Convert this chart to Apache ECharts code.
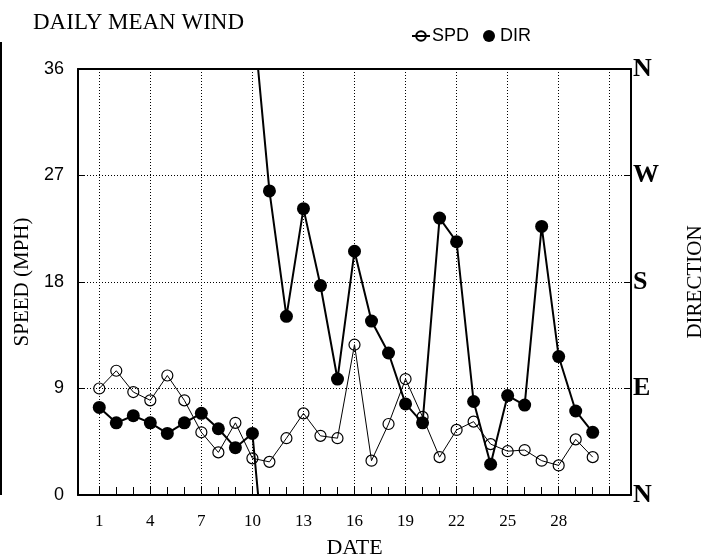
<!DOCTYPE html>
<html>
<head>
<meta charset="utf-8">
<script src="https://cdn.jsdelivr.net/npm/echarts@6/dist/echarts.min.js"></script>
<style>
  html, body { margin: 0; padding: 0; background: #fff; }
  #chart { width: 723px; height: 555px; }
</style>
</head>
<body>
<div id="chart"></div>
<script>
// daily values
var days = [1,2,3,4,5,6,7,8,9,10,11,12,13,14,15,16,17,18,19,20,21,22,23,24,25,26,27,28,29,30];
var spd = [9.0,10.5,8.7,8.0,10.1,8.0,5.3,3.6,6.1,3.1,2.8,4.8,6.9,5.0,4.8,12.7,2.9,6.0,9.8,6.6,3.2,5.5,6.2,4.3,3.7,3.8,2.9,2.5,4.7,3.2];
// direction in degrees
var dir = [74,61,67,61,52,61,69,56,40,52,257,151,242,177,98,206,147,120,77,61,234,214,79,26,84,76,227,117,71,53];

var dayTicks = [1,2,3,4,5,6,7,8,9,10,11,12,13,14,15,16,17,18,19,20,21,22,23,24,25,26,27,28,29,30,31];
var dayLabels = [1,4,7,10,13,16,19,22,25,28];
var dayGrid = [1,4,7,10,13,16,19,22,25,28,31];
var compass = ['N','E','S','W','N'];

var serif = 'Liberation Serif';
var sans = 'Liberation Sans';

// direction line, broken where the shortest way goes through N
var dirData = [];
var wrapData = [];
for (var i = 0; i < days.length; i++) {
	dirData.push([days[i], dir[i]]);
	if (i < days.length - 1) {
		var d = dir[i + 1] - dir[i];
		if (Math.abs(d) > 180) {
			var s = d > 0 ? -360 : 360;
			dirData.push([days[i] + 0.5, '-']);
			wrapData.push([days[i], dir[i]], [days[i + 1], dir[i + 1] + s], [days[i] + 0.5, '-']);
			wrapData.push([days[i], dir[i] - s], [days[i + 1], dir[i + 1]], [days[i] + 0.5, '-']);
		}
	}
}
var spdData = days.map(function (d, i) { return [d, spd[i]]; });

var chart = echarts.init(document.getElementById('chart'));
chart.setOption({
	backgroundColor: '#fff',
	animation: false,
	title: {
		text: 'DAILY MEAN WIND',
		left: 28,
		top: 6,
		textStyle: { fontFamily: serif, fontSize: 23, fontWeight: 'normal', color: '#000' }
	},
	legend: {
		left: 406,
		top: 22,
		itemGap: 14,
		itemWidth: 18,
		itemHeight: 12,
		textStyle: { fontFamily: sans, fontSize: 18, color: '#000', padding: [0, 0, 0, -3] },
		data: [
			{ name: 'SPD' },
			{ name: 'DIR', icon: 'circle', itemStyle: { color: '#000' } }
		]
	},
	graphic: [{
		type: 'rect',
		shape: { x: 0, y: 42, width: 2, height: 453 },
		style: { fill: '#000' }
	}],
	grid: {
		left: 78, right: 92, top: 69, bottom: 60,
		outerBoundsMode: 'none'
	},
	xAxis: [{
		type: 'value',
		min: -0.25, max: 32.25,
		name: 'DATE',
		nameLocation: 'middle',
		nameGap: 42,
		nameMoveOverlap: false,
		nameTextStyle: { fontFamily: serif, fontSize: 22, color: '#000' },
		axisLine: { show: true, onZero: false, lineStyle: { color: '#000', width: 2 } },
		axisTick: { show: true, inside: true, length: 8, customValues: dayTicks, lineStyle: { color: '#000' } },
		axisLabel: { customValues: dayLabels, margin: 18, fontFamily: serif, fontSize: 17, color: '#000' },
		splitLine: { show: false }
	}, {
		type: 'value',
		min: -0.25, max: 32.25,
		position: 'top',
		axisLine: { show: true, onZero: false, lineStyle: { color: '#000', width: 2 } },
		axisTick: { show: false, customValues: dayGrid },
		axisLabel: { show: false, customValues: dayGrid },
		splitLine: { show: true, lineStyle: { color: '#000', type: [1, 2], width: 1 } }
	}],
	yAxis: [{
		type: 'value',
		min: 0, max: 36, interval: 9,
		name: 'SPEED (MPH)',
		nameLocation: 'middle',
		nameRotate: 90,
		nameGap: 42,
		nameTextStyle: { fontFamily: serif, fontSize: 21, color: '#000' },
		axisLine: { show: true, onZero: false, lineStyle: { color: '#000', width: 2 } },
		axisTick: { show: true, inside: true, length: 7, lineStyle: { color: '#000' } },
		axisLabel: { margin: 14, fontFamily: sans, fontSize: 18, color: '#000' },
		splitLine: { show: true, lineStyle: { color: '#000', type: [1, 2], width: 1 } }
	}, {
		type: 'value',
		min: 0, max: 360, interval: 90,
		position: 'right',
		name: 'DIRECTION',
		nameLocation: 'middle',
		nameRotate: 90,
		nameGap: 54,
		nameTextStyle: { fontFamily: serif, fontSize: 21, color: '#000' },
		axisLine: { show: true, onZero: false, lineStyle: { color: '#000', width: 2 } },
		axisTick: { show: true, inside: true, length: 7, lineStyle: { color: '#000' } },
		axisLabel: {
			margin: 2, fontFamily: serif, fontSize: 26, fontWeight: 'bold', color: '#000',
			formatter: function (v) { return compass[v / 90]; }
		},
		splitLine: { show: false }
	}],
	series: [{
		name: 'SPD',
		type: 'line',
		data: spdData,
		symbol: 'circle',
		symbolSize: 11,
		lineStyle: { color: '#000', width: 1 },
		itemStyle: { color: 'rgba(255,255,255,0)', borderColor: '#000', borderWidth: 1.2 },
		z: 3
	}, {
		name: 'DIR',
		type: 'line',
		yAxisIndex: 1,
		data: dirData,
		connectNulls: false,
		symbol: 'circle',
		symbolSize: 13,
		lineStyle: { color: '#000', width: 2 },
		itemStyle: { color: '#000' },
		z: 4
	}, {
		name: 'DIR wrap',
		type: 'line',
		yAxisIndex: 1,
		data: wrapData,
		connectNulls: false,
		symbol: 'none',
		clip: true,
		silent: true,
		lineStyle: { color: '#000', width: 2 },
		z: 4
	}]
});
</script>
</body>
</html>
